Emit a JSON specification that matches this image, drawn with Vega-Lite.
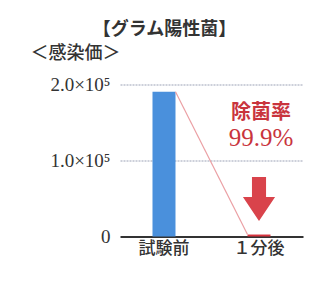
{
  "$schema": "https://vega.github.io/schema/vega-lite/v6.json",
  "width": 183,
  "height": 152,
  "autosize": {"type": "none"},
  "padding": {"left": 120, "top": 84.5, "right": 16, "bottom": 49.5},
  "background": "white",
  "config": {"view": {"stroke": null}},
  "title": {
    "text": "【グラム陽性菌】",
    "anchor": "middle",
    "frame": "group",
    "dx": -47,
    "offset": 6,
    "font": "Noto Sans CJK JP",
    "fontSize": 18,
    "fontWeight": "bold",
    "color": "#333333"
  },
  "layer": [
    {
      "data": {"values": [
        {"条件": "試験前", "感染価": 190500, "群": "前"},
        {"条件": "１分後", "感染価": 2600, "群": "後"}
      ]},
      "mark": {"type": "bar", "width": 23},
      "encoding": {
        "x": {
          "field": "条件", "type": "nominal", "sort": ["試験前", "１分後"],
          "scale": {"paddingInner": 0.2, "paddingOuter": 0.063},
          "axis": {
            "title": null, "labelAngle": 0, "ticks": false,
            "domainColor": "#333333", "domainWidth": 2,
            "labelFont": "Noto Sans CJK JP", "labelFontSize": 17, "labelFontWeight": 500,
            "labelColor": "#333333", "labelPadding": 4
          }
        },
        "y": {
          "field": "感染価", "type": "quantitative",
          "scale": {"domain": [0, 200000], "nice": false},
          "axis": {
            "values": [0, 100000, 200000],
            "labelExpr": "datum.value === 0 ? '0' : format(datum.value / 100000, '.1f') + '×10⁵'",
            "domain": false, "ticks": false,
            "grid": true,
            "gridColor": {"condition": {"test": "datum.value === 0", "value": "transparent"}, "value": "#cdd0da"},
            "gridWidth": 2,
            "gridDash": [2, 1],
            "labelFont": "Liberation Serif", "labelFontSize": 19, "labelColor": "#333333",
            "labelPadding": 10,
            "title": "＜感染価＞",
            "titleAngle": 0, "titleAlign": "left", "titleBaseline": "alphabetic",
            "titleX": -90, "titleY": -26,
            "titleFont": "Noto Sans CJK JP", "titleFontSize": 18, "titleFontWeight": 500,
            "titleColor": "#333333"
          }
        },
        "color": {
          "field": "群", "type": "nominal",
          "scale": {"domain": ["前", "後"], "range": ["#4a90dc", "#d8343f"]},
          "legend": null
        }
      }
    },
    {
      "data": {"values": [
        {"始": "試験前", "終": "１分後", "始値": 190500, "終値": 2600}
      ]},
      "mark": {"type": "rule", "color": "#eba0a4", "strokeWidth": 1.2, "xOffset": 11.5, "x2Offset": -11.5},
      "encoding": {
        "x": {"field": "始", "type": "nominal"},
        "x2": {"field": "終"},
        "y": {"field": "始値", "type": "quantitative"},
        "y2": {"field": "終値"}
      }
    },
    {
      "data": {"values": [{"条件": "１分後", "位置": 49300}]},
      "mark": {
        "type": "point", "filled": true, "opacity": 1, "color": "#d9434b", "strokeWidth": 0,
        "size": 1936,
        "shape": "M-0.32,-1L0.32,-1L0.32,-0.09L0.73,-0.09L0,1L-0.73,-0.09L-0.32,-0.09Z"
      },
      "encoding": {
        "x": {"field": "条件", "type": "nominal"},
        "y": {"field": "位置", "type": "quantitative"}
      }
    },
    {
      "data": {"values": [{"条件": "１分後", "位置": 162000, "文": "除菌率"}]},
      "mark": {"type": "text", "font": "Noto Sans CJK JP", "fontSize": 20, "fontWeight": "bold", "color": "#c9343d", "baseline": "middle", "dx": 2},
      "encoding": {
        "x": {"field": "条件", "type": "nominal"},
        "y": {"field": "位置", "type": "quantitative"},
        "text": {"field": "文"}
      }
    },
    {
      "data": {"values": [{"条件": "１分後", "位置": 130000, "文": "99.9%"}]},
      "mark": {"type": "text", "font": "Liberation Serif", "fontSize": 25, "color": "#c9343d", "baseline": "middle", "dx": 2},
      "encoding": {
        "x": {"field": "条件", "type": "nominal"},
        "y": {"field": "位置", "type": "quantitative"},
        "text": {"field": "文"}
      }
    }
  ]
}
